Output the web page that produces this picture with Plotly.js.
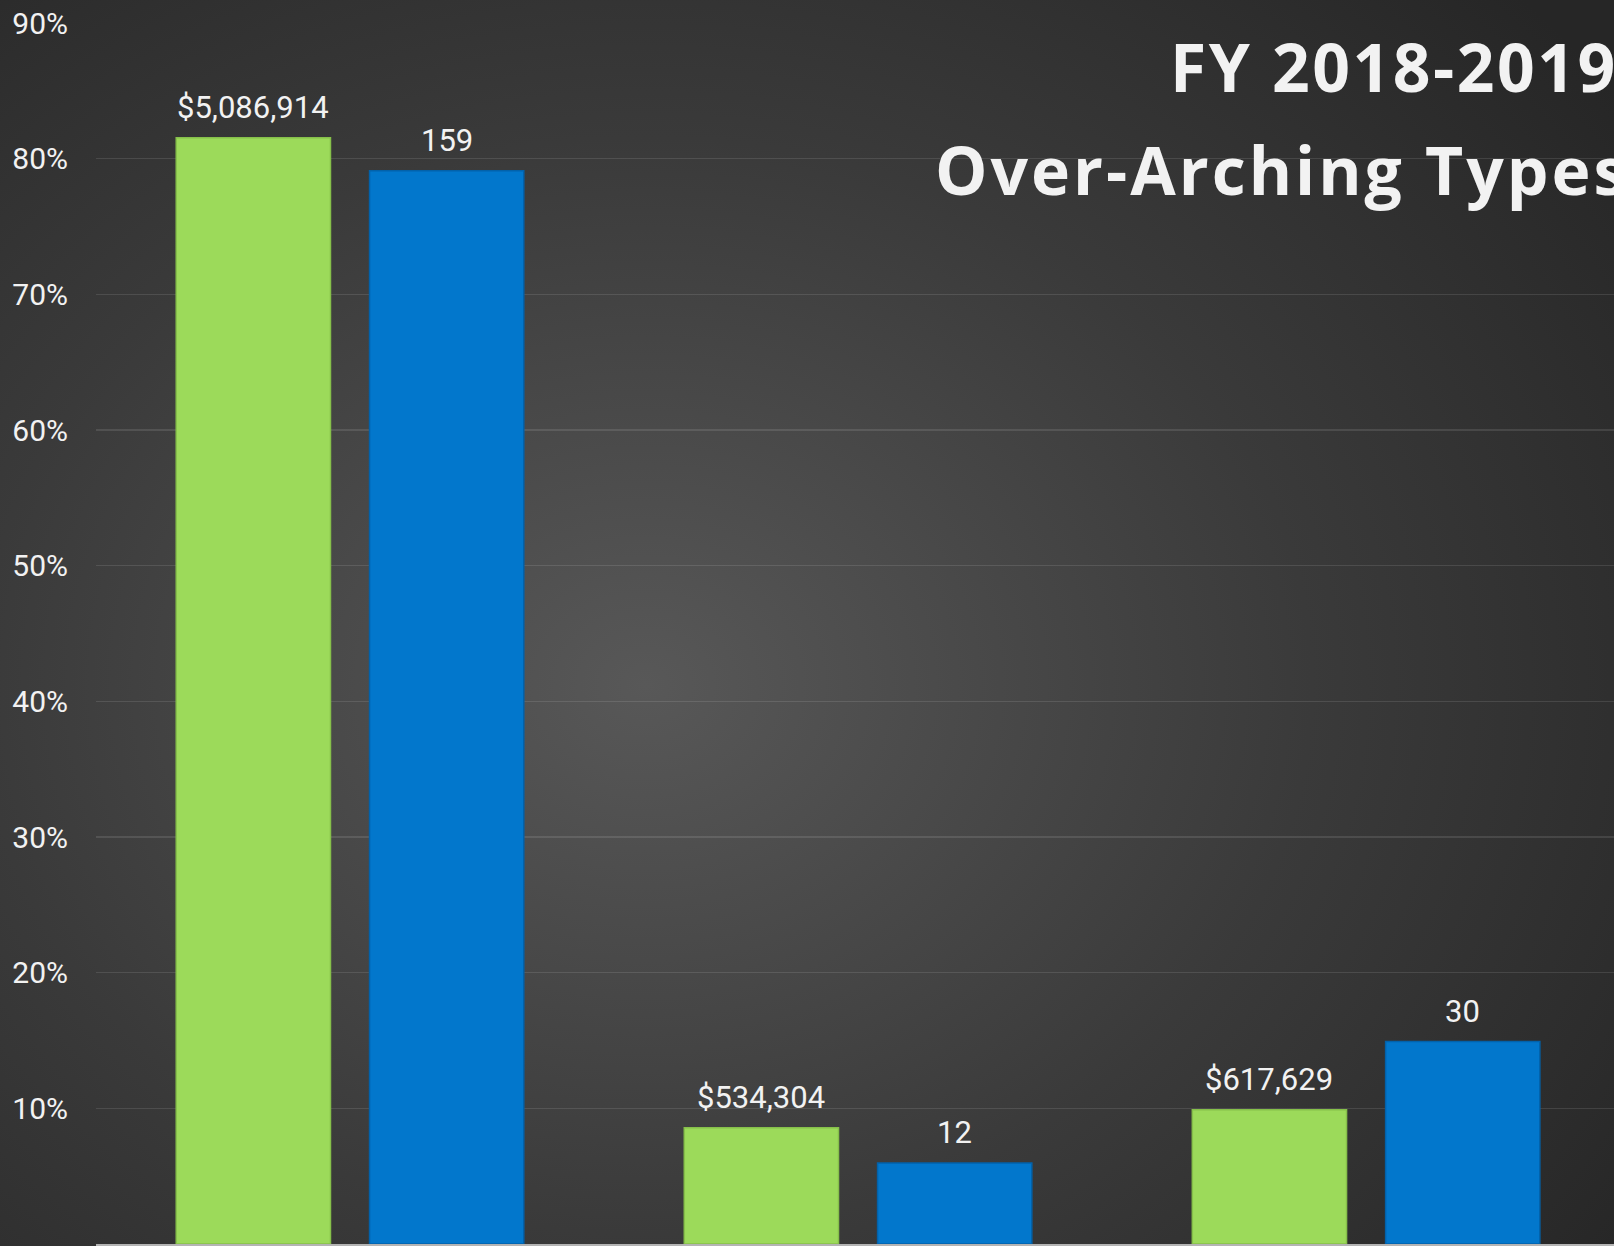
<!DOCTYPE html>
<html>
<head>
<meta charset="utf-8">
<script src="https://cdn.plot.ly/plotly-3.0.1.min.js"></script>
<style>
  html, body { margin: 0; padding: 0; width: 1614px; height: 1246px; overflow: hidden; }
  body { background: radial-gradient(ellipse 75% 80% at 40% 55%, #585858 0%, #3a3a3a 55%, #262626 100%); }
  #chart { width: 1614px; height: 1246px; }
</style>
</head>
<body>
<div id="chart"></div>
<script>
// ---- Data ----
const categories = ["Type 1", "Type 2", "Type 3"];
const dollarValues = [5086914, 534304, 617629];
const countValues = [159, 12, 30];
const dollarLabels = ["$5,086,914", "$534,304", "$617,629"];
const countLabels = ["159", "12", "30"];
const yTickValues = [0, 0.1, 0.2, 0.3, 0.4, 0.5, 0.6, 0.7, 0.8, 0.9];
const titleLine1 = "FY 2018-2019";
const titleLine2 = "Over-Arching Types";

// shares of totals
const dollarTotal = dollarValues.reduce((a, b) => a + b, 0);
const countTotal = countValues.reduce((a, b) => a + b, 0);
const dollarShare = dollarValues.map(v => v / dollarTotal);
const countShare = countValues.map(v => v / countTotal);

// ---- Layout constants ----
const W = 1614, H = 1246;
const M = { l: 96, r: 0, t: 23, b: 2 };
const bargap = 0.239;
const xRange = [-0.5, 2.488];
const plotW = W - M.l - M.r;
const catW = plotW / (xRange[1] - xRange[0]);
const slotW = catW * (1 - bargap) / 2;
const offset = slotW / 2;

const green = '#9cda5a';
const blue = '#0277cc';

const traces = [
  {
    type: 'bar', x: categories, y: dollarShare, name: 'Dollars',
    marker: { color: green, line: { color: '#86c04a', width: 1.5 } },
    hoverinfo: 'skip'
  },
  {
    type: 'bar', x: categories, y: countShare, name: 'Count',
    marker: { color: blue, line: { color: '#0262ab', width: 1.5 } },
    hoverinfo: 'skip'
  }
];

const labelFont = { family: 'Roboto, sans-serif', size: 31, color: '#f2f2f2' };
const annotations = [];
categories.forEach((c, i) => {
  annotations.push({
    x: c, y: dollarShare[i], xref: 'x', yref: 'y', text: dollarLabels[i],
    showarrow: false, xanchor: 'center', yanchor: 'bottom', xshift: -offset, yshift: 10,
    font: labelFont
  });
  annotations.push({
    x: c, y: countShare[i], xref: 'x', yref: 'y', text: countLabels[i],
    showarrow: false, xanchor: 'center', yanchor: 'bottom', xshift: offset, yshift: 10,
    font: labelFont
  });
});
const plotH = H - M.t - M.b;
const titleFont = { family: '"Open Sans", sans-serif', size: 66, color: '#f2f2f2', weight: 700 };
const titleSpacing = [2.5, 3];
annotations.push({
  xref: 'paper', yref: 'paper', x: (1168 - M.l) / plotW, y: (H - M.b - 66) / plotH,
  xanchor: 'left', yanchor: 'middle', text: titleLine1, showarrow: false, font: titleFont,
  xshift: titleLine1.length * titleSpacing[0] / 2
});
annotations.push({
  xref: 'paper', yref: 'paper', x: (933 - M.l) / plotW, y: (H - M.b - 169) / plotH,
  xanchor: 'left', yanchor: 'middle', text: titleLine2, showarrow: false, font: titleFont,
  xshift: titleLine2.length * titleSpacing[1] / 2
});

const layout = {
  width: W, height: H,
  margin: M,
  paper_bgcolor: 'rgba(0,0,0,0)',
  plot_bgcolor: 'rgba(0,0,0,0)',
  barmode: 'group',
  bargap: bargap,
  bargroupgap: 0.202,
  showlegend: false,
  xaxis: {
    type: 'category', range: xRange,
    showticklabels: false, showgrid: false, zeroline: false,
    showline: true, linecolor: '#b4b4b4', linewidth: 2,
    ticks: 'outside', tickson: 'boundaries', ticklen: 10, tickcolor: '#b4b4b4', tickwidth: 2
  },
  yaxis: {
    range: [0, 0.9], tickvals: yTickValues, tickformat: '.0%',
    showgrid: true, gridcolor: 'rgba(255,255,255,0.11)', gridwidth: 1.5,
    zeroline: false, showline: false, ticks: '',
    ticklabelstandoff: 27,
    tickfont: { family: 'Roboto, sans-serif', size: 30, color: '#f2f2f2' }
  },
  annotations: annotations
};

Plotly.newPlot('chart', traces, layout, { staticPlot: true, displayModeBar: false }).then(gd => {
  const n = annotations.length;
  [n - 2, n - 1].forEach((idx, k) => {
    const t = gd.querySelector('.annotation[data-index="' + idx + '"] .annotation-text');
    if (t) t.style.letterSpacing = titleSpacing[k] + 'px';
  });
});
</script>
</body>
</html>
